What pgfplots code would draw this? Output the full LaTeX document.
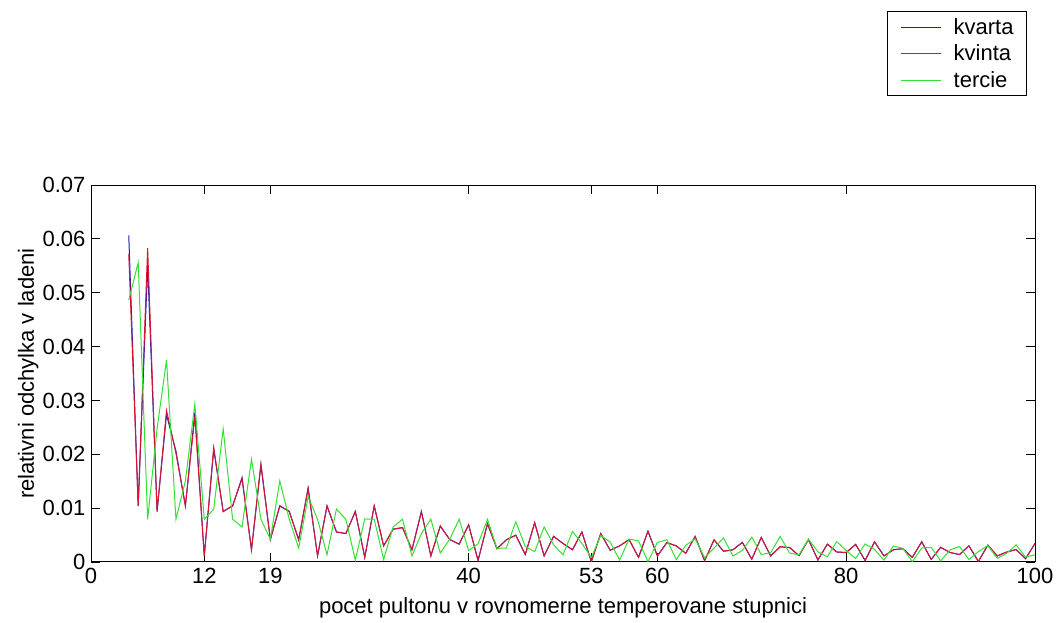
\documentclass[border=0pt]{standalone}
\usepackage{fontspec}
\setmainfont{Liberation Sans}
\usepackage{pgfplots}
\usepackage{pgfplotstable}
\pgfplotsset{compat=1.18}
\definecolor{cKvarta}{RGB}{30,30,190}
\definecolor{cKvinta}{RGB}{215,20,50}
\definecolor{cTercie}{RGB}{50,225,50}
\pgfplotstableread{
n kvarta kvinta tercie
4 0.060660 0.057192 0.048634
5 0.010370 0.010478 0.055606
6 0.055058 0.058266 0.007936
7 0.009425 0.009337 0.024790
8 0.027371 0.028141 0.037472
9 0.020592 0.020176 0.007937
10 0.010369 0.010477 0.015084
11 0.027763 0.027013 0.029332
12 0.001130 0.001128 0.007936
13 0.020865 0.021310 0.009819
14 0.009425 0.009337 0.024709
15 0.010369 0.010477 0.007937
16 0.015691 0.015449 0.006514
17 0.002266 0.002272 0.019092
18 0.017961 0.018290 0.007936
19 0.004178 0.004160 0.004246
20 0.010369 0.010477 0.015084
21 0.009425 0.009337 0.007937
22 0.004113 0.004130 0.002594
23 0.013780 0.013592 0.012112
24 0.001130 0.001128 0.007937
25 0.010369 0.010477 0.001335
26 0.005589 0.005557 0.009819
27 0.005275 0.005303 0.007936
28 0.009425 0.009337 0.000346
29 0.000862 0.000863 0.007997
30 0.010369 0.010477 0.007937
31 0.002997 0.002989 0.000452
32 0.006072 0.006110 0.006514
33 0.006400 0.006360 0.007936
34 0.002265 0.002271 0.001111
35 0.009425 0.009337 0.005283
36 0.001130 0.001128 0.007937
37 0.006655 0.006699 0.001662
38 0.004178 0.004160 0.004246
39 0.003309 0.003319 0.007936
40 0.006929 0.006881 0.002131
41 0.000280 0.000280 0.003359
42 0.007097 0.007147 0.007936
43 0.002476 0.002470 0.002535
44 0.004113 0.004130 0.002594
45 0.004992 0.004968 0.007470
46 0.001381 0.001383 0.002887
47 0.007300 0.007248 0.001924
48 0.001130 0.001128 0.006514
49 0.004754 0.004776 0.003195
50 0.003446 0.003434 0.001335
51 0.002265 0.002271 0.005670
52 0.005588 0.005557 0.003468
53 0.000039 0.000039 0.000813
54 0.005275 0.005303 0.004919
55 0.002182 0.002178 0.003712
56 0.002993 0.003001 0.000346
57 0.004178 0.004160 0.004246
58 0.000862 0.000862 0.003930
59 0.005708 0.005740 0.000073
60 0.001130 0.001128 0.003640
61 0.003599 0.003612 0.004126
62 0.002997 0.002989 0.000452
63 0.001620 0.001622 0.003092
64 0.004750 0.004728 0.004304
65 0.000241 0.000241 0.000796
66 0.004113 0.004130 0.002594
67 0.001993 0.001989 0.004467
68 0.002266 0.002272 0.001110
69 0.003648 0.003634 0.002138
70 0.000521 0.000521 0.004616
71 0.004556 0.004576 0.001398
72 0.001130 0.001128 0.001720
73 0.002823 0.002831 0.004751
74 0.002694 0.002686 0.001662
75 0.001181 0.001181 0.001335
76 0.004178 0.004160 0.004246
77 0.000379 0.000379 0.001906
78 0.003309 0.003319 0.000981
79 0.001862 0.001858 0.003786
80 0.001757 0.001761 0.002131
81 0.003274 0.003264 0.000652
82 0.000280 0.000280 0.003359
83 0.003735 0.003749 0.002341
84 0.001130 0.001128 0.000346
85 0.002266 0.002272 0.002963
86 0.002476 0.002470 0.002535
87 0.000863 0.000863 0.000062
88 0.003762 0.003748 0.002594
89 0.000480 0.000480 0.002717
90 0.002718 0.002726 0.000204
91 0.001766 0.001762 0.002248
92 0.001382 0.001382 0.002887
93 0.002997 0.002989 0.000452
94 0.000100 0.000100 0.001924
95 0.003122 0.003132 0.003046
96 0.001130 0.001128 0.000685
97 0.001846 0.001850 0.001621
98 0.002311 0.002305 0.003195
99 0.000621 0.000621 0.000904
100 0.003446 0.003434 0.001335
}\data
\begin{document}
\begin{tikzpicture}[x=1pt,y=1pt]
\useasboundingbox (0,0) rectangle (1059,623);
\fill[white] (0,0) rectangle (1059,623);
\begin{axis}[
  at={(91pt,61pt)}, anchor=south west,
  scale only axis, width=944pt, height=377pt,
  xmin=0, xmax=100, ymin=0, ymax=0.07,
  xtick={0,12,19,40,53,60,80,100},
  xticklabels={0,12,19,40,53,60,80,100},
  ytick={0,0.01,0.02,0.03,0.04,0.05,0.06,0.07},
  yticklabels={0,0.01,0.02,0.03,0.04,0.05,0.06,0.07},
  scaled y ticks=false,
  /pgf/number format/assume math mode=true,
  tick align=inside, major tick length=9pt,
  xtick pos=both, ytick pos=both,
  xticklabel pos=left, yticklabel pos=left,
  tick style={black, line width=0.8pt},
  axis line style={black, line width=1pt},
  ticklabel style={font=\fontsize{22}{26}\selectfont},
  xticklabel style={yshift=-3pt},
  yticklabel style={xshift=-2pt},
  xlabel={pocet pultonu v rovnomerne temperovane stupnici},
  ylabel={relativni odchylka v ladeni},
  label style={font=\fontsize{22}{26}\selectfont},
  xlabel style={at={(axis description cs:0.5,-0.1379)}, anchor=base},
  ylabel style={at={(axis description cs:-0.0605,0.5)}, anchor=base, rotate=0},
  legend style={at={(axis description cs:0.9915,1.4615)}, anchor=north east,
    draw=black, line width=0.8pt, fill=white,
    font=\fontsize{22}{26}\selectfont,
    inner xsep=13pt, inner ysep=7pt,
    nodes={inner sep=0pt}, column sep=12pt, row sep=9pt,
    cells={anchor=west}},
  legend image code/.code={\draw[#1] (0pt,0pt) -- (40pt,0pt);},
]
\addplot[cKvarta, line width=1pt] table[x=n, y=kvarta] {\data};
\addlegendentry{kvarta}
\addplot[cKvinta, line width=1pt] table[x=n, y=kvinta] {\data};
\addlegendentry{kvinta}
\addplot[cTercie, line width=1pt] table[x=n, y=tercie] {\data};
\addlegendentry{tercie}
\end{axis}
\end{tikzpicture}
\end{document}
